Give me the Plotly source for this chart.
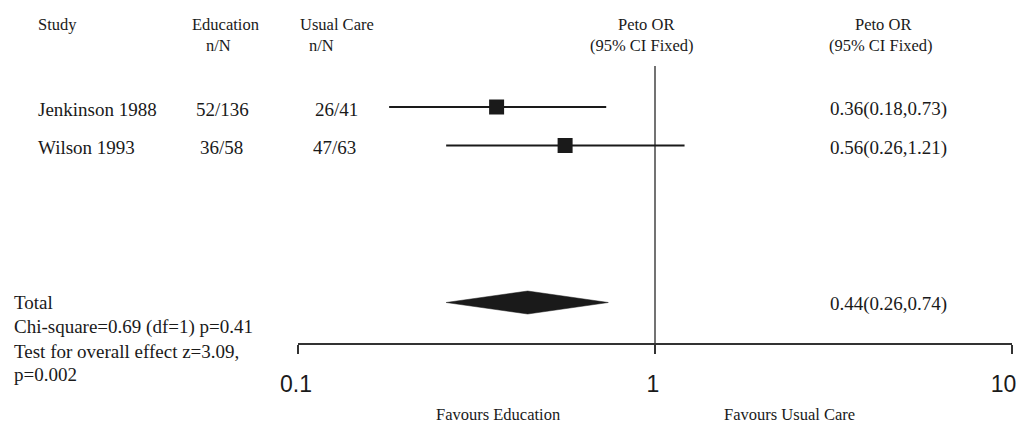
import plotly.graph_objects as go

# ---------------- data ----------------
studies = ["Jenkinson 1988", "Wilson 1993"]
education_nN = ["52/136", "36/58"]
usual_care_nN = ["26/41", "47/63"]
peto_or = [0.36, 0.56]
ci_low = [0.18, 0.26]
ci_high = [0.73, 1.21]

total_or = 0.44
total_low = 0.26
total_high = 0.74

tick_vals = [0.1, 1, 10]
tick_text = ["0.1", "1", "10"]

summary_lines = ["Total", "Chi-square=0.69 (df=1) p=0.41",
                 "Test for overall effect z=3.09,", "p=0.002"]

# ---------------- layout constants ----------------
W, H = 1025, 428
OFF = 8                 # default page body margin
FW, FH = W - OFF, H - OFF
AXIS_Y = 343            # pixel row of the x axis line (page coords)
row_y = [107, 145.5]    # pixel rows of the studies
total_y = 302.5
SERIF = "Liberation Serif"
SANS = "Liberation Sans"
INK = "#1a1a1a"

fig = go.Figure()

# reference line at OR = 1
fig.add_trace(go.Scatter(x=[1, 1], y=[66, AXIS_Y], mode="lines",
                         line=dict(color="#444444", width=1.5),
                         hoverinfo="skip", showlegend=False))

# confidence interval lines
widths = [2.2, 1.8]
for i in range(len(studies)):
    fig.add_trace(go.Scatter(x=[ci_low[i], ci_high[i]], y=[row_y[i], row_y[i]],
                             mode="lines", line=dict(color=INK, width=widths[i]),
                             showlegend=False, hoverinfo="skip"))

# point estimates
fig.add_trace(go.Scatter(x=peto_or, y=row_y, mode="markers",
                         marker=dict(symbol="square", size=15, color=INK,
                                     line=dict(width=0)),
                         showlegend=False))

# pooled diamond
hh = 11.5
fig.add_trace(go.Scatter(
    x=[total_low, total_or, total_high, total_or, total_low],
    y=[total_y, total_y - hh, total_y, total_y + hh, total_y],
    mode="lines", fill="toself", fillcolor=INK,
    line=dict(color=INK, width=0.5), showlegend=False))


def px(x):
    return (x - OFF) / FW


def py(y):
    return (AXIS_Y - y) / (AXIS_Y - OFF)


ann = []


def text(x, y, s, size, anchor="center", family=SERIF):
    ann.append(dict(x=px(x), y=py(y), xref="paper", yref="paper", text=s,
                    showarrow=False, xanchor=anchor, yanchor="middle",
                    font=dict(family=family, size=size, color=INK)))


HS = 16.5
# headers
text(36, 25, "Study", HS, "left")
text(225.5, 25, "Education", HS)
text(218.5, 46, "n/N", HS)
text(337, 25, "Usual Care", HS)
text(321, 46, "n/N", HS)
text(646, 25, "Peto OR", HS)
text(641.5, 46, "(95% CI Fixed)", HS)
text(883, 25, "Peto OR", HS)
text(881, 46, "(95% CI Fixed)", HS)

RS = 19
for i, s in enumerate(studies):
    text(36, row_y[i] + 2, s, RS, "left")
    text([222, 221][i], row_y[i] + 2, education_nN[i], RS)
    text([336.5, 334.5][i], row_y[i] + 2, usual_care_nN[i], RS)
    text(888, row_y[i] + 2, f"{peto_or[i]:.2f}({ci_low[i]:.2f},{ci_high[i]:.2f})", RS)

text(888, total_y + 1, f"{total_or:.2f}({total_low:.2f},{total_high:.2f})", RS)

for j, s in enumerate(summary_lines):
    text(12, [302, 327, 351, 374][j], s, RS, "left")

text(498, 414, "Favours Education", HS)
text(789.5, 414, "Favours Usual Care", HS)

# the last tick label sits against the page edge; pad it so it stays in view
shown_ticks = tick_text[:-1] + [tick_text[-1] + "\u2007"]

fig.update_layout(
    width=FW, height=FH,
    margin=dict(l=0, r=0, t=0, b=FH - (AXIS_Y - OFF), pad=0, autoexpand=False),
    paper_bgcolor="white", plot_bgcolor="white",
    annotations=ann,
    xaxis=dict(type="log", range=[-1, 1], automargin=False,
               domain=[(298 - OFF) / FW, (1012 - OFF) / FW],
               showline=True, linecolor="#333333", linewidth=1.5,
               ticks="outside", ticklen=9, tickwidth=1.5, tickcolor="#333333",
               tickvals=tick_vals, ticktext=shown_ticks,
               tickfont=dict(family=SANS, size=23, color=INK),
               ticklabelstandoff=11, ticklabelshift=-2,
               ticklabeloverflow="allow",
               showgrid=False, zeroline=False, fixedrange=True),
    yaxis=dict(range=[AXIS_Y, OFF], visible=False, showgrid=False,
               automargin=False, zeroline=False, fixedrange=True),
)

fig.write_html("out.html")
